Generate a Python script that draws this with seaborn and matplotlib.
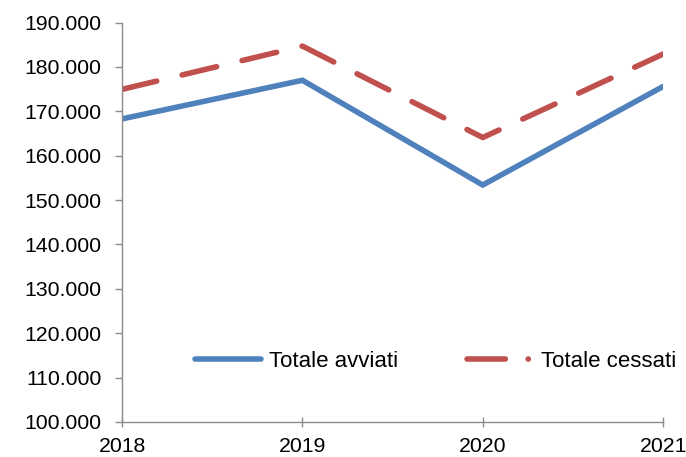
import pandas as pd
import matplotlib
matplotlib.use("Agg")
import matplotlib.pyplot as plt
import matplotlib.ticker as mticker
from matplotlib.lines import Line2D
import seaborn as sns

# Data
anni = [2018, 2019, 2020, 2021]
avviati = [168300, 177000, 153400, 175600]
cessati = [174950, 184700, 164100, 182900]

BLUE = '#4F81BD'
RED = '#C0504D'
GREY = '#8C8C8C'

sns.set_theme(style="white")
plt.rcParams['font.family'] = ['Liberation Sans', 'DejaVu Sans']

fig = plt.figure(figsize=(6.86, 4.57), dpi=100)
ax = fig.add_axes([0.178, 0.0766, 0.7886, 0.874])

sns.lineplot(x=anni, y=avviati, ax=ax, color=BLUE, lw=4, solid_capstyle='round',
             solid_joinstyle='miter', legend=False)
sns.lineplot(x=anni, y=cessati, ax=ax, color=RED, lw=4, dashes=(6.4, 4.7),
             dash_capstyle='round', legend=False)

ax.set_xlim(2018, 2021)
ax.set_ylim(100000, 190000)
ax.set_xticks(anni)
ax.set_yticks(range(100000, 190001, 10000))
ax.yaxis.set_major_formatter(mticker.FuncFormatter(lambda v, p: f"{v:,.0f}".replace(',', '.')))
ax.set_xlabel('')
ax.set_ylabel('')

for s in ['top', 'right']:
    ax.spines[s].set_visible(False)
for s in ['left', 'bottom']:
    ax.spines[s].set_color(GREY)
    ax.spines[s].set_linewidth(1.0)

ax.tick_params(axis='y', direction='out', length=5, width=1, color=GREY, labelsize=15.3,
               labelcolor='black', pad=10, left=True)
ax.tick_params(axis='x', direction='inout', length=7.2, width=1, color=GREY, labelsize=15.3,
               labelcolor='black', pad=7.5, bottom=True)

# legend handles like the original (red handle: dash then dot)
h_blue = Line2D([], [], color=BLUE, lw=4, solid_capstyle='round')
h_red = Line2D([], [], color=RED, lw=4, dashes=(6.9, 4.1, 0.05, 20), dash_capstyle='round')
fig.legend([h_blue, h_red], ['Totale avviati', 'Totale cessati'],
           loc='center left', bbox_to_anchor=(0.284, 0.21), ncol=2, frameon=False,
           fontsize=16, handlelength=3.0, handletextpad=0.33, columnspacing=3.1,
           borderpad=0, borderaxespad=0, labelcolor='black')

fig.savefig('out.png', dpi=100)
